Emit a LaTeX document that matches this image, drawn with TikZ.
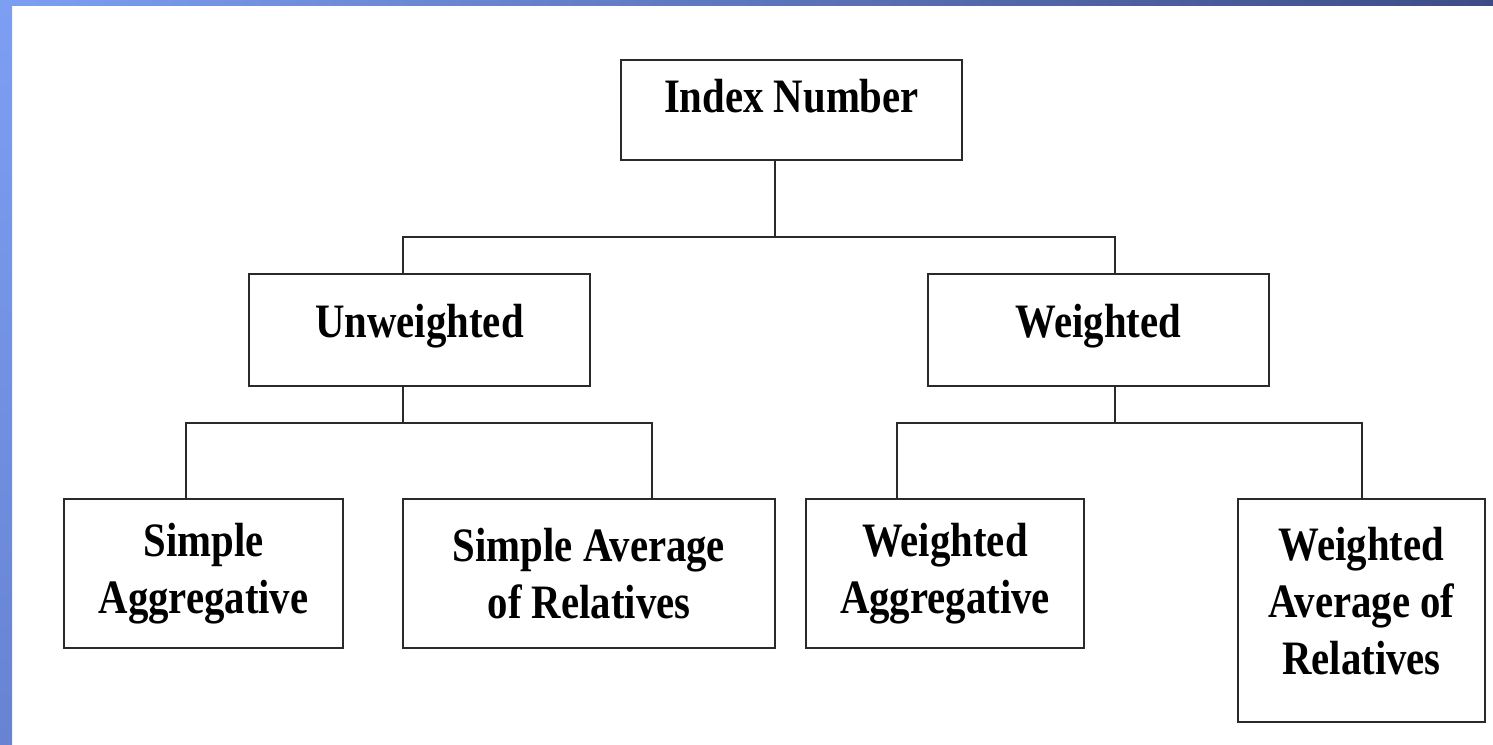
\documentclass[tikz,border=0pt]{standalone}
\usepackage{fontspec}
\setmainfont[FakeStretch=0.85]{Liberation Serif}
\definecolor{barlight}{HTML}{7D9FF3}
\definecolor{bardark}{HTML}{3D4C86}
\definecolor{barlow}{HTML}{6783D2}
\definecolor{linegray}{HTML}{2A2A2A}

\tikzset{
  box/.style={draw=linegray,line width=1.1pt,fill=white,inner sep=2pt,align=center,
    font=\fontsize{27.3}{32.5}\selectfont\bfseries},
  link/.style={draw=linegray,line width=1.1pt}
}

\begin{document}
\begin{tikzpicture}[x=0.02cm,y=-0.02cm]
       \useasboundingbox (0,0) rectangle (1493,744);
       \fill[white] (0,0) rectangle (1493,744);
       \shade[left color=barlight,right color=bardark] (0,0) rectangle (1493,5);
       \shade[top color=barlight,bottom color=barlow] (0,0) rectangle (12,744);

       \node[box,minimum width=6.82cm,minimum height=2cm,text height=0.6cm,text depth=0.52cm] (idx) at (791.5,110) {Index Number};
       \node[box,minimum width=6.82cm,minimum height=2.24cm,text height=0.6cm,text depth=0.32cm] (unw) at (419.5,330) {Unweighted};
       \node[box,minimum width=6.82cm,minimum height=2.24cm,text height=0.6cm,text depth=0.32cm] (wtd) at (1098.5,330) {Weighted};
       \node[box,minimum width=5.58cm,minimum height=2.98cm] (sagg) at (203.5,573.5) {Simple\\Aggregative};
       \node[box,minimum width=7.44cm,minimum height=2.98cm] (savg) at (589,573.5) {Simple Average\\of Relatives};
       \node[box,minimum width=5.56cm,minimum height=2.98cm] (wagg) at (945,573.5) {Weighted\\Aggregative};
       \node[box,minimum width=4.94cm,minimum height=4.46cm] (wavg) at (1361.5,610.5) {Weighted\\Average of\\Relatives\rule[-0.4cm]{0pt}{0pt}};

       \coordinate (busM) at (775,237);
       \coordinate (busL) at (403,237);
       \coordinate (busR) at (1115,237);
       \coordinate (uM) at (403,423);
       \coordinate (uL) at (186,423);
       \coordinate (uR) at (652,423);
       \coordinate (wM) at (1115,423);
       \coordinate (wL) at (897,423);
       \coordinate (wR) at (1362,423);

       \draw[link] (idx.south -| busM) -- (busM);
       \draw[link] (unw.north -| busL) -- (busL) -- (busR) -- (wtd.north -| busR);
       \draw[link] (unw.south -| uM) -- (uM);
       \draw[link] (sagg.north -| uL) -- (uL) -- (uR) -- (savg.north -| uR);
       \draw[link] (wtd.south -| wM) -- (wM);
       \draw[link] (wagg.north -| wL) -- (wL) -- (wR) -- (wavg.north -| wR);
     \end{tikzpicture}
\end{document}
